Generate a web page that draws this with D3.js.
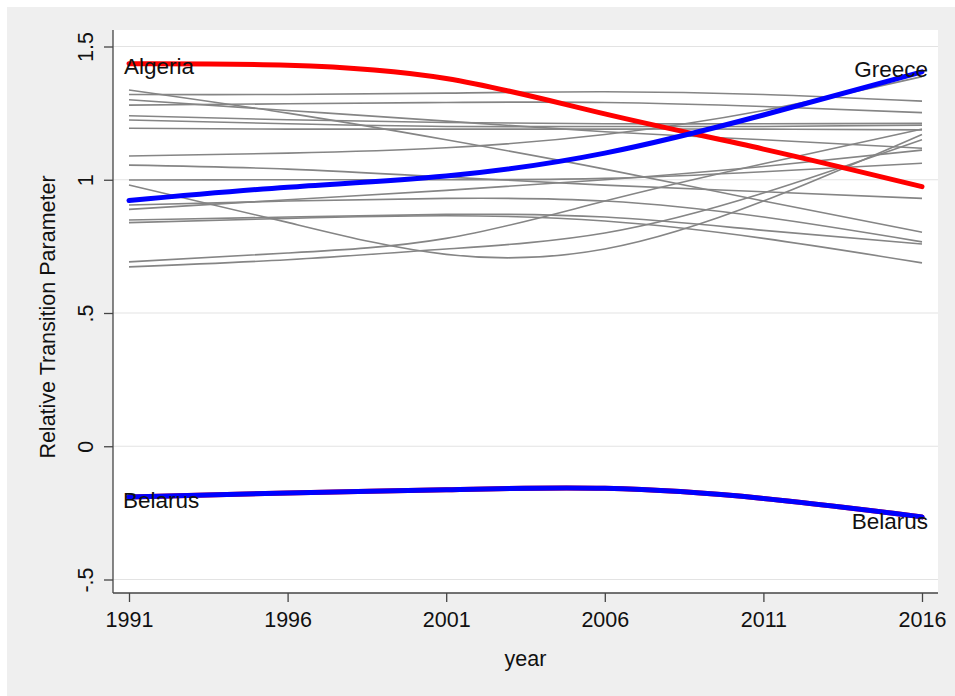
<!DOCTYPE html>
<html>
<head>
<meta charset="utf-8">
<script src="https://cdn.jsdelivr.net/npm/d3@7"></script>
<style>
  html, body { margin: 0; padding: 0; background: #ffffff; }
  svg { display: block; }
  text { font-family: "Liberation Sans", Arial, Helvetica, sans-serif; }
</style>
</head>
<body>
<svg id="chart" width="955" height="696"></svg>
<script>
// Sample years (values are read at each five-year tick)
const years = [1991, 1996, 2001, 2006, 2011, 2016];

// Other countries, drawn in gray
const otherSeries = [
  [1.337, 1.250, 1.150, 1.040, 0.920, 0.803],
  [1.320, 1.320, 1.325, 1.330, 1.320, 1.295],
  [1.300, 1.260, 1.220, 1.180, 1.150, 1.118],
  [1.280, 1.285, 1.290, 1.290, 1.275, 1.252],
  [1.240, 1.225, 1.215, 1.210, 1.210, 1.212],
  [1.224, 1.210, 1.200, 1.200, 1.200, 1.205],
  [1.193, 1.190, 1.190, 1.190, 1.190, 1.187],
  [1.089, 1.100, 1.120, 1.170, 1.260, 1.387],
  [1.055, 1.040, 1.010, 0.980, 0.955, 0.930],
  [0.999, 1.000, 1.000, 1.005, 1.030, 1.062],
  [0.980, 0.840, 0.720, 0.740, 0.920, 1.170],
  [0.905, 0.920, 0.930, 0.920, 0.860, 0.767],
  [0.889, 0.925, 0.960, 1.000, 1.050, 1.111],
  [0.849, 0.860, 0.870, 0.860, 0.810, 0.759],
  [0.839, 0.855, 0.865, 0.845, 0.780, 0.688],
  [0.692, 0.725, 0.780, 0.920, 1.060, 1.190],
  [0.673, 0.700, 0.740, 0.800, 0.950, 1.150]
];

// Highlighted countries
const algeria = [1.435, 1.430, 1.380, 1.247, 1.115, 0.974];
const greece  = [0.922, 0.972, 1.014, 1.100, 1.243, 1.405];
const belarus = [-0.190, -0.175, -0.163, -0.158, -0.196, -0.265];

// Axis ticks
const xTicks = [1991, 1996, 2001, 2006, 2011, 2016];
const yTicks = [-0.5, 0, 0.5, 1, 1.5];
const yTickLabels = ["-.5", "0", ".5", "1", "1.5"];

const svg = d3.select("#chart");
const W = 955, H = 696;
const fontSize = 21.5;
const labelSize = 22.5;

// Graph region (light gray) and plot region (white)
const region = { left: 113, right: 938, top: 30, bottom: 593 };
svg.append("rect").attr("x", 7).attr("y", 7).attr("width", W - 7).attr("height", H - 7)
  .attr("fill", "#efefef");
svg.append("rect")
  .attr("x", region.left).attr("y", region.top)
  .attr("width", region.right - region.left).attr("height", region.bottom - region.top)
  .attr("fill", "#ffffff");

const x = d3.scaleLinear().domain([1991, 2016]).range([129, 922]);
const y = d3.scaleLinear().domain([-0.5, 1.5]).range([579.5, 46.5]);

// Horizontal grid lines
svg.append("g").selectAll("line").data(yTicks).join("line")
  .attr("x1", region.left).attr("x2", region.right)
  .attr("y1", d => y(d)).attr("y2", d => y(d))
  .attr("stroke", "#e3e3e3").attr("stroke-width", 1.2);

const line = d3.line()
  .x((d, i) => x(years[i]))
  .y(d => y(d))
  .curve(d3.curveNatural);

const plot = svg.append("g");

plot.selectAll("path.other").data(otherSeries).join("path")
  .attr("class", "other")
  .attr("d", line)
  .attr("fill", "none")
  .attr("stroke", "#858585")
  .attr("stroke-width", 1.6);

// Highest/lowest at start in red, highest/lowest at end in blue
const red = "#ff0000", blue = "#0000ff";
[[algeria, red], [belarus, red], [greece, blue], [belarus, blue]].forEach(([s, c]) => {
  plot.append("path")
    .attr("d", line(s))
    .attr("fill", "none")
    .attr("stroke", c)
    .attr("stroke-width", 5)
    .attr("stroke-linecap", "round");
});

// Country labels
const labels = [
  { name: "Algeria", v: algeria[0], yr: years[0], anchor: "start", dx: -5, dy: "0.45em" },
  { name: "Belarus", v: belarus[0], yr: years[0], anchor: "start", dx: -6, dy: "0.5em" },
  { name: "Greece",  v: greece[greece.length - 1], yr: years[years.length - 1], anchor: "end", dx: 6, dy: "0.22em" },
  { name: "Belarus", v: belarus[belarus.length - 1], yr: years[years.length - 1], anchor: "end", dx: 6, dy: "0.55em" }
];
svg.append("g").selectAll("text").data(labels).join("text")
  .attr("x", d => x(d.yr) + d.dx)
  .attr("y", d => y(d.v))
  .attr("dy", d => d.dy)
  .attr("text-anchor", d => d.anchor)
  .attr("font-size", labelSize)
  .attr("fill", "#111")
  .text(d => d.name);

// Y axis
const yAxis = svg.append("g")
  .attr("transform", `translate(${region.left},0)`)
  .call(d3.axisLeft(y).tickValues(yTicks).tickSize(9)
    .tickFormat((d, i) => yTickLabels[i]));
yAxis.select(".domain").remove();
yAxis.selectAll(".tick line").attr("stroke", "#444").attr("stroke-width", 1.3);
yAxis.selectAll(".tick text")
  .attr("transform", "rotate(-90)")
  .attr("x", 0).attr("y", -20).attr("dy", 0)
  .attr("text-anchor", "middle")
  .attr("font-size", fontSize)
  .attr("font-family", "Liberation Sans, Arial, sans-serif")
  .attr("fill", "#111");

// X axis
const xAxis = svg.append("g")
  .attr("transform", `translate(0,${region.bottom})`)
  .call(d3.axisBottom(x).tickValues(xTicks).tickSize(9).tickFormat(d3.format("d")));
xAxis.select(".domain").remove();
xAxis.selectAll(".tick line").attr("stroke", "#444").attr("stroke-width", 1.3);
xAxis.selectAll(".tick text")
  .attr("y", 34).attr("dy", 0)
  .attr("font-size", fontSize)
  .attr("font-family", "Liberation Sans, Arial, sans-serif")
  .attr("fill", "#111");

// Axis lines along the plot region edges
svg.append("line")
  .attr("x1", region.left).attr("x2", region.left)
  .attr("y1", region.top).attr("y2", region.bottom)
  .attr("stroke", "#444").attr("stroke-width", 1.3);
svg.append("line")
  .attr("x1", region.left).attr("x2", region.right)
  .attr("y1", region.bottom).attr("y2", region.bottom)
  .attr("stroke", "#444").attr("stroke-width", 1.3);

// Axis titles
svg.append("text")
  .attr("transform", `translate(55,317) rotate(-90)`)
  .attr("text-anchor", "middle")
  .attr("font-size", fontSize)
  .attr("fill", "#111")
  .text("Relative Transition Parameter");
svg.append("text")
  .attr("x", (region.left + region.right) / 2)
  .attr("y", 666)
  .attr("text-anchor", "middle")
  .attr("font-size", fontSize)
  .attr("fill", "#111")
  .text("year");
</script>
</body>
</html>
